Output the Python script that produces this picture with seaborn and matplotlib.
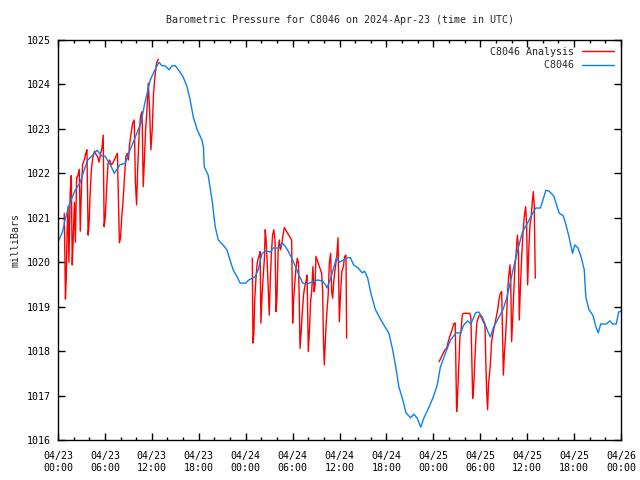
import numpy as np
import pandas as pd
import seaborn as sns
import matplotlib
matplotlib.use('Agg')
import matplotlib.pyplot as plt
from matplotlib.ticker import MultipleLocator
from matplotlib.lines import Line2D

# Station data, hours since 2024-04-23 00:00 UTC
obs_hours = [0.0, 0.25, 0.6, 0.9, 1.5, 2.2, 2.8, 3.2, 3.8, 4.4, 5.0, 5.6, 6.0, 6.7, 7.2, 7.9,
             8.6, 9.2, 9.9, 10.6, 11.1, 11.8, 12.4, 12.9, 13.3, 13.7, 14.2, 14.6, 15.0, 15.4,
             16.0, 16.5, 16.9, 17.3, 17.8, 18.4, 18.6, 18.7, 19.2, 19.7, 20.1, 20.5, 21.1,
             21.6, 22.0, 22.4, 22.9, 23.3, 24.0, 24.4, 25.2, 25.6, 26.1, 26.6, 27.2, 27.5,
             28.2, 28.7, 29.1, 29.5, 30.0, 30.4, 30.8, 31.3, 31.9, 32.5, 33.2, 33.8, 34.2,
             34.4, 34.8, 35.2, 35.6, 36.0, 36.5, 37.0, 37.4, 37.8, 38.4, 38.9, 39.2, 39.6,
             40.0, 40.6, 41.3, 41.9, 42.3, 42.8, 43.2, 43.6, 44.1, 44.5, 45.1, 45.5, 45.9,
             46.4, 46.8, 47.4, 48.0, 48.5, 48.9, 49.6, 50.2, 50.9, 51.5, 51.9, 52.4, 52.8,
             53.4, 53.8, 54.3, 55.0, 55.3, 55.7, 56.2, 56.9, 57.4, 57.7, 58.2, 58.8, 59.4,
             60.1, 60.7, 61.1, 61.7, 62.4, 62.8, 63.4, 64.1, 64.6, 64.9, 65.3, 65.8, 66.1,
             66.5, 66.9, 67.3, 67.5, 67.9, 68.4, 68.8, 69.1, 69.4, 70.1, 70.6, 70.9, 71.4,
             71.7, 72.0]
obs_mb = [1020.45, 1020.55, 1020.70, 1020.95, 1021.33, 1021.62, 1021.78, 1022.00, 1022.30,
          1022.40, 1022.52, 1022.39, 1022.39, 1022.19, 1022.00, 1022.19, 1022.23, 1022.52,
          1022.82, 1023.13, 1023.58, 1024.10, 1024.33, 1024.50, 1024.42, 1024.42, 1024.33,
          1024.42, 1024.42, 1024.33, 1024.17, 1023.95, 1023.65, 1023.27, 1022.98, 1022.75,
          1022.60, 1022.15, 1021.96, 1021.40, 1020.80, 1020.50, 1020.39, 1020.28, 1020.05,
          1019.83, 1019.67, 1019.53, 1019.53, 1019.60, 1019.67, 1019.83, 1020.20, 1020.25,
          1020.23, 1020.32, 1020.32, 1020.43, 1020.35, 1020.23, 1020.05, 1019.89, 1019.71,
          1019.53, 1019.51, 1019.56, 1019.60, 1019.58, 1019.49, 1019.42, 1019.60, 1019.83,
          1020.10, 1020.00, 1020.05, 1020.10, 1020.10, 1019.94, 1019.87, 1019.76, 1019.80,
          1019.65, 1019.31, 1018.93, 1018.70, 1018.52, 1018.41, 1018.03, 1017.64, 1017.19,
          1016.90, 1016.61, 1016.50, 1016.58, 1016.50, 1016.29, 1016.50, 1016.72, 1016.97,
          1017.24, 1017.64, 1017.98, 1018.25, 1018.41, 1018.41, 1018.59, 1018.68, 1018.61,
          1018.86, 1018.88, 1018.75, 1018.43, 1018.32, 1018.54, 1018.70, 1018.93, 1019.20,
          1019.44, 1019.83, 1020.28, 1020.68, 1020.90, 1021.10, 1021.22, 1021.22, 1021.62,
          1021.60, 1021.49, 1021.10, 1021.05, 1020.88, 1020.61, 1020.20, 1020.39, 1020.32,
          1020.12, 1019.83, 1019.22, 1018.93, 1018.81, 1018.54, 1018.41, 1018.61, 1018.61,
          1018.68, 1018.61, 1018.61, 1018.88, 1018.90]

# Analysis runs (three 12 hour windows)
ana1_hours = [0.80, 0.88, 0.95, 1.05, 1.15, 1.28, 1.40, 1.55, 1.70, 1.82, 1.95, 2.10, 2.22,
              2.38, 2.55, 2.72, 2.85, 3.00, 3.15, 3.35, 3.55, 3.70, 3.85, 3.97, 4.10, 4.28,
              4.48, 4.68, 4.88, 5.05, 5.25, 5.45, 5.62, 5.78, 5.90, 6.05, 6.20, 6.40, 6.60,
              6.80, 7.00, 7.20, 7.40, 7.60, 7.72, 7.85, 8.00, 8.15, 8.30, 8.50, 8.68, 8.85,
              9.00, 9.15, 9.35, 9.55, 9.75, 9.90, 10.05, 10.20, 10.38, 10.55, 10.75, 10.90,
              11.05, 11.20, 11.35, 11.55, 11.72, 11.88, 12.05, 12.22, 12.40, 12.60, 12.83]
ana1_mb = [1021.10, 1020.13, 1019.17, 1019.60, 1020.58, 1021.25, 1020.00, 1021.55, 1021.95,
           1019.94, 1020.55, 1021.35, 1020.45, 1021.90, 1021.95, 1022.09, 1020.70, 1021.70,
           1022.20, 1022.30, 1022.45, 1022.53, 1020.61, 1020.85, 1021.50, 1022.11, 1022.38,
           1022.50, 1022.42, 1022.38, 1022.25, 1022.45, 1022.56, 1022.86, 1020.80, 1021.03,
           1021.60, 1022.23, 1022.30, 1022.19, 1022.23, 1022.30, 1022.38, 1022.45, 1021.48,
           1020.44, 1020.55, 1021.03, 1021.33, 1021.90, 1022.38, 1022.45, 1022.30, 1022.64,
           1022.90, 1023.13, 1023.20, 1021.78, 1021.29, 1022.15, 1022.90, 1023.28, 1023.39,
           1021.70, 1022.30, 1022.98, 1023.35, 1024.03, 1023.40, 1022.53, 1022.98, 1023.80,
           1024.18, 1024.48, 1024.57]
ana2_hours = [24.85, 24.93, 25.05, 25.15, 25.30, 25.45, 25.60, 25.75, 25.85, 25.95, 26.10,
              26.25, 26.40, 26.50, 26.60, 26.75, 26.90, 27.02, 27.15, 27.30, 27.45, 27.60,
              27.75, 27.88, 28.00, 28.15, 28.30, 28.45, 28.60, 28.78, 28.94, 29.88, 29.95,
              30.01, 30.12, 30.25, 30.43, 30.60, 30.75, 30.85, 30.95, 31.10, 31.25, 31.40,
              31.55, 31.70, 31.85, 32.01, 32.15, 32.30, 32.44, 32.60, 32.75, 32.88, 32.99,
              33.72, 33.85, 33.95, 34.06, 34.20, 34.36, 34.55, 34.70, 34.87, 35.00, 35.12,
              35.30, 35.45, 35.65, 35.81, 35.98, 36.12, 36.30, 36.49, 36.65, 36.83, 36.91]
ana2_mb = [1020.09, 1018.18, 1018.40, 1019.11, 1019.60, 1019.94, 1020.09, 1020.16, 1020.24,
           1018.63, 1019.26, 1019.71, 1020.09, 1020.73, 1020.54, 1020.01, 1019.34, 1018.81,
           1019.60, 1020.24, 1020.61, 1020.73, 1020.50, 1018.89, 1019.19, 1020.24, 1020.50,
           1020.28, 1020.39, 1020.61, 1020.78, 1020.50, 1019.49, 1018.63, 1019.11, 1019.45,
           1019.86, 1020.09, 1019.98, 1019.19, 1018.06, 1018.44, 1018.89, 1019.26, 1019.45,
           1019.56, 1019.71, 1017.99, 1018.44, 1019.11, 1019.34, 1019.90, 1019.34, 1019.49,
           1020.13, 1019.75, 1019.34, 1018.21, 1017.69, 1018.29, 1018.81, 1019.26, 1019.98,
           1020.20, 1019.34, 1019.19, 1019.64, 1019.86, 1020.13, 1020.55, 1018.66, 1019.26,
           1019.79, 1019.90, 1020.13, 1020.16, 1018.29]
ana3_hours = [48.72, 48.85, 49.06, 49.25, 49.49, 49.70, 49.91, 50.10, 50.34, 50.50, 50.68,
              50.80, 50.90, 50.98, 51.10, 51.28, 51.40, 51.53, 51.70, 51.83, 52.10, 52.47,
              52.65, 52.81, 52.92, 53.03, 53.15, 53.32, 53.45, 53.58, 53.80, 53.96, 54.20,
              54.39, 54.60, 54.75, 54.82, 54.94, 55.05, 55.29, 55.45, 55.67, 55.85, 56.10,
              56.25, 56.39, 56.55, 56.74, 56.85, 56.95, 57.10, 57.25, 57.40, 57.50, 57.65,
              57.80, 57.90, 58.01, 58.15, 58.27, 58.45, 58.61, 58.75, 58.87, 58.99, 59.15,
              59.29, 59.45, 59.63, 59.80, 59.93, 60.06, 60.20, 60.36, 60.50, 60.66, 60.78,
              60.90, 61.04]
ana3_mb = [1017.76, 1017.80, 1017.88, 1017.95, 1018.03, 1018.06, 1018.21, 1018.33, 1018.44,
           1018.55, 1018.63, 1018.63, 1017.50, 1016.64, 1017.00, 1017.76, 1018.33, 1018.44,
           1018.81, 1018.85, 1018.85, 1018.85, 1018.85, 1018.74, 1017.84, 1016.94, 1017.16,
           1017.84, 1018.33, 1018.66, 1018.78, 1018.81, 1018.74, 1018.66, 1018.59, 1017.50,
           1017.09, 1016.68, 1017.24, 1017.69, 1018.21, 1018.44, 1018.59, 1018.81, 1018.96,
           1019.15, 1019.30, 1019.34, 1018.40, 1017.46, 1017.99, 1018.36, 1018.89, 1019.34,
           1019.71, 1019.94, 1019.56, 1018.21, 1018.74, 1019.26, 1019.94, 1020.24, 1020.61,
           1020.39, 1018.70, 1019.49, 1020.09, 1020.61, 1021.03, 1021.25, 1020.84, 1019.49,
           1020.24, 1020.84, 1020.99, 1021.36, 1021.59, 1021.29, 1019.64]

tick_hours = [0, 6, 12, 18, 24, 30, 36, 42, 48, 54, 60, 66, 72]
tick_labels = ['04/23\n00:00', '04/23\n06:00', '04/23\n12:00', '04/23\n18:00',
               '04/24\n00:00', '04/24\n06:00', '04/24\n12:00', '04/24\n18:00',
               '04/25\n00:00', '04/25\n06:00', '04/25\n12:00', '04/25\n18:00',
               '04/26\n00:00']

df_obs = pd.DataFrame({'hour': obs_hours, 'mb': obs_mb})
df_ana = pd.concat([
    pd.DataFrame({'hour': ana1_hours, 'mb': ana1_mb, 'run': 1}),
    pd.DataFrame({'hour': ana2_hours, 'mb': ana2_mb, 'run': 2}),
    pd.DataFrame({'hour': ana3_hours, 'mb': ana3_mb, 'run': 3}),
])

sns.set_style('ticks')
plt.rcParams['font.family'] = ['DejaVu Sans Mono']
fs = 7.2

fig = plt.figure(figsize=(6.4, 4.8), dpi=100)
ax = fig.add_axes([58 / 640, 40 / 480, 563 / 640, 400 / 480])

red = '#ff0000'
blue = '#0a80f5'
names = ['C8046 Analysis', 'C8046']
w = max(len(n) for n in names)

sns.lineplot(data=df_ana, x='hour', y='mb', units='run', estimator=None,
             color=red, linewidth=1, ax=ax, legend=False)
sns.lineplot(data=df_obs, x='hour', y='mb', color=blue, linewidth=1, ax=ax, legend=False)

ax.set_xlim(0, 72)
ax.set_ylim(1016, 1025)
ax.set_xticks(tick_hours)
ax.set_xticklabels(tick_labels)
ax.xaxis.set_minor_locator(MultipleLocator(2))
ax.yaxis.set_major_locator(MultipleLocator(1))
ax.yaxis.set_major_formatter(plt.FormatStrFormatter('%d'))
ax.tick_params(which='both', direction='in', top=True, right=True, labelsize=fs,
               colors='black', width=1)
ax.tick_params(which='major', length=5)
ax.tick_params(which='minor', length=2.5)
ax.tick_params(axis='x', which='major', pad=8)
ax.tick_params(axis='y', which='major', pad=5)
for s in ax.spines.values():
    s.set_visible(True)
    s.set_linewidth(1)
    s.set_color('black')

ax.set_xlabel('')
ax.set_ylabel('milliBars', fontsize=fs, labelpad=5)
ax.set_title('Barometric Pressure for C8046 on 2024-Apr-23 (time in UTC)', fontsize=fs, pad=12)

handles = [Line2D([], [], color=red, linewidth=1), Line2D([], [], color=blue, linewidth=1)]
ax.legend(handles, [n.rjust(w) for n in names], loc='upper right', frameon=False,
          markerfirst=False, fontsize=fs, handlelength=3.2, handletextpad=0.8,
          borderaxespad=0.3, labelspacing=0.35)

fig.savefig('out.png', dpi=100)
